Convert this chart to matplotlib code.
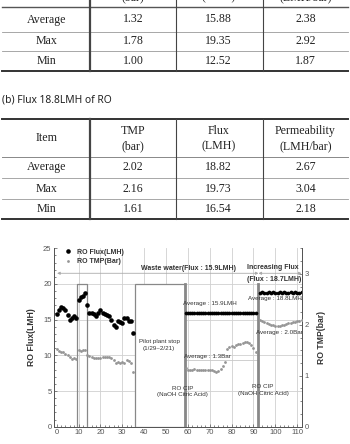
import matplotlib
matplotlib.use("Agg")
import matplotlib.pyplot as plt
from matplotlib.ticker import MultipleLocator

W, H = 350, 444

# ---- table (a): header row is cut off by the top of the page ----
items = ["Average", "Max", "Min"]
a_units = ["(bar)", "(LMH)", "(LMH/bar)"]
a_tmp = ["1.32", "1.78", "1.00"]
a_flux = ["15.88", "19.35", "12.52"]
a_perm = ["2.38", "2.92", "1.87"]

# ---- table (b) ----
b_title = "(b) Flux 18.8LMH of RO"
b_names = ["TMP", "Flux", "Permeability"]
b_units = ["(bar)", "(LMH)", "(LMH/bar)"]
b_tmp = ["2.02", "2.16", "1.61"]
b_flux = ["18.82", "19.73", "16.54"]
b_perm = ["2.67", "3.04", "2.18"]

# ---- chart: RO flux (LMH) and TMP (bar) per operating day ----
days1 = list(range(0, 36))
flux1 = [15.8, 16.3, 16.8, 16.7, 16.3, 15.6, 15.0, 15.2, 15.5, 15.2,
         17.7, 18.2, 18.3, 18.7, 17.0, 16.0, 15.9, 15.8, 15.5, 16.0,
         16.3, 15.9, 15.8, 15.6, 15.5, 14.9, 14.3, 14.0, 14.8, 14.7,
         14.6, 15.3, 15.2, 14.8, 14.8, 13.1]
tmp1 = [1.53, 1.49, 1.47, 1.46, 1.43, 1.40, 1.36, 1.33, 1.34, 1.32,
        1.51, 1.49, 1.50, 1.51, 1.41, 1.38, 1.36, 1.35, 1.34, 1.34,
        1.35, 1.36, 1.37, 1.37, 1.36, 1.34, 1.31, 1.25, 1.27, 1.25,
        1.27, 1.25, 1.30, 1.29, 1.24, 1.08]

days2 = list(range(59, 92))
flux2 = [15.9, 16.0, 15.9, 16.0, 15.9, 15.9, 16.0, 15.9, 16.0, 15.9,
         15.9, 16.0, 16.0, 15.9, 15.9, 16.0, 15.9, 16.0, 15.9, 15.9,
         16.0, 15.9, 16.0, 15.9, 15.9, 16.0, 15.9, 15.9, 16.0, 15.9,
         16.0, 15.9, 15.9]
tmp2 = [1.15, 1.12, 1.11, 1.12, 1.13, 1.12, 1.11, 1.12, 1.12, 1.11,
        1.11, 1.12, 1.11, 1.10, 1.08, 1.09, 1.13, 1.19, 1.26, 1.52,
        1.56, 1.58, 1.57, 1.61, 1.62, 1.63, 1.65, 1.67, 1.66, 1.64,
        1.60, 1.54, 1.47]

days3 = list(range(93, 113))
flux3 = [18.8, 18.9, 18.8, 18.8, 18.9, 18.8, 18.9, 18.8, 18.8, 18.9,
         18.8, 18.9, 18.8, 18.8, 18.9, 18.8, 18.9, 18.8, 18.8, 18.9]
tmp3 = [2.09, 2.07, 2.06, 2.04, 2.02, 2.00, 1.99, 1.98, 1.97, 1.98,
        1.99, 2.00, 2.02, 2.03, 2.04, 2.05, 2.06, 2.07, 2.08, 2.09]

TXT = "#222222"
SERIF = "Liberation Serif"
SANS = "Liberation Sans"

fig = plt.figure(figsize=(W / 100, H / 100), dpi=100)

# page canvas in pixel coordinates for the tables
cv = fig.add_axes([0, 0, 1, 1])
cv.set_xlim(0, W)
cv.set_ylim(H, 0)
cv.axis("off")

col_x = [46.7, 133, 218.5, 305.5]
vlines = [89.5, 176, 263]


def draw_rows(row_y, cols):
    for r, y in enumerate(row_y):
        cv.text(col_x[0], y, items[r], ha="center", va="center",
                family=SERIF, fontsize=8.6, color=TXT)
        for c, vals in enumerate(cols):
            cv.text(col_x[c + 1], y, vals[r], ha="center", va="center",
                    family=SERIF, fontsize=8.6, color=TXT)


# table (a) -- the unit line of its header peeks in at the top edge
for c, u in enumerate(a_units):
    cv.text(col_x[c + 1], -2.5, u, ha="center", va="center",
            family=SERIF, fontsize=8.6, color=TXT)
for y, lw, col in [(7.3, 1.0, "#555"), (31.7, 0.6, "#999"),
                   (51, 0.6, "#999"), (71.5, 1.4, "#333")]:
    cv.plot([2, 348], [y, y], color=col, lw=lw)
for i, x in enumerate(vlines):
    cv.plot([x, x], [0, 71.5], color="#444", lw=1.6 if i == 0 else 0.8)
draw_rows([19.5, 41, 61], [a_tmp, a_flux, a_perm])

# table (b)
cv.text(2, 100, b_title, ha="left", va="center", family="Noto Sans",
        fontsize=7.4, color=TXT)
cv.text(col_x[0], 138.3, "Item", ha="center", va="center",
        family=SERIF, fontsize=8.6, color=TXT)
for c in range(3):
    cv.text(col_x[c + 1], 130.7, b_names[c], ha="center", va="center",
            family=SERIF, fontsize=8.6, color=TXT)
    cv.text(col_x[c + 1], 146, b_units[c], ha="center", va="center",
            family=SERIF, fontsize=8.6, color=TXT)
for y, lw, col in [(119.3, 1.4, "#333"), (156.7, 0.7, "#888"),
                   (178.3, 0.6, "#999"), (199.3, 0.6, "#999"),
                   (219.3, 1.4, "#333")]:
    cv.plot([2, 348], [y, y], color=col, lw=lw)
for i, x in enumerate(vlines):
    cv.plot([x, x], [119.3, 219.3], color="#444", lw=1.6 if i == 0 else 0.8)
draw_rows([167.3, 189, 209.3], [b_tmp, b_flux, b_perm])

# ---- chart ----
ax = fig.add_axes([54.3 / W, 1 - 426.7 / H, (302 - 54.3) / W, (426.7 - 248.3) / H])
ax.set_facecolor("none")
ax.set_xlim(-1.1, 112.2)
ax.set_ylim(0, 25)
ax.set_xticks(range(0, 111, 10))
ax.set_yticks(range(0, 26, 5))
ax.xaxis.set_minor_locator(MultipleLocator(2))
ax.yaxis.set_minor_locator(MultipleLocator(1))
for x in range(10, 111, 10):
    ax.axvline(x, color="#d0d0d0", lw=0.6, zorder=0)
for y in [5, 10, 15, 20]:
    ax.axhline(y, color="#d0d0d0", lw=0.6, zorder=0)

gray = "#888888"
# CIP break-out boxes and stop period
ax.plot([9.4, 9.4, 13.8, 13.8], [0, 20, 20, 0], color=gray, lw=0.9, zorder=2)
ax.fill([35.8, 35.8, 58.6, 58.6], [0, 20, 20, 0], facecolor="white",
        edgecolor=gray, lw=0.9, zorder=2)
ax.plot([58.6, 58.6], [0, 20], color=gray, lw=2.0, zorder=3)
ax.plot([92.3, 92.3], [0, 20], color=gray, lw=2.0, zorder=3)
ax.plot([36, 92.3], [9.3, 9.3], color="#c8c8c8", lw=0.6, zorder=1)

# period arrows at the top
arrow = dict(arrowstyle="<|-|>", color="#aaaaaa", lw=0.6,
             mutation_scale=4, shrinkA=0, shrinkB=0)
ax.annotate("", xy=(0.2, 21.5), xytext=(92.3, 21.5), arrowprops=arrow)
ax.annotate("", xy=(92.3, 21.5), xytext=(112, 21.5), arrowprops=arrow)

ax.plot(days1, flux1, "o", color="black", ms=3.3, mew=0, zorder=4,
        label="RO Flux(LMH)")
ax.plot(days2, flux2, "o", color="black", ms=2.7, mew=0, zorder=4)
ax.plot(days3, flux3, "o", color="black", ms=2.7, mew=0, zorder=4)

ax2 = ax.twinx()
ax2.set_ylim(0, 3.5)
ax2.set_yticks([0, 1, 2, 3])
ax2.yaxis.set_minor_locator(MultipleLocator(0.25))
tmp_kw = dict(marker="o", ls="none", color="#959595", ms=2.0, mew=0, zorder=4)
ax2.plot(days1, tmp1, label="RO TMP(Bar)", **tmp_kw)
ax2.plot(days2, tmp2, **tmp_kw)
ax2.plot(days3, tmp3, **tmp_kw)

for a in (ax, ax2):
    a.spines["top"].set_visible(False)
    for s in a.spines.values():
        s.set_color("#555555")
        s.set_linewidth(0.7)
    a.tick_params(which="both", direction="in", colors="#555555",
                  labelsize=5.5, width=0.5)
    a.tick_params(which="major", length=2.5)
    a.tick_params(which="minor", length=1.3)
    for lab in a.get_xticklabels() + a.get_yticklabels():
        lab.set_family(SANS)
ax.tick_params(axis="x", pad=2)
ax.tick_params(axis="y", pad=2)
ax2.tick_params(axis="y", pad=2)

ax.set_ylabel("RO Flux(LMH)", family=SANS, fontsize=6.2, weight="bold",
              color="#333333", labelpad=5)
ax2.set_ylabel("RO TMP(bar)", family=SANS, fontsize=6.2, weight="bold",
               color="#333333", labelpad=6)

bold = dict(family=SANS, fontsize=5, weight="bold", color="#333333",
            ha="center", va="center", zorder=6)
small = dict(family=SANS, fontsize=4.5, color="#333333",
             ha="center", va="center", zorder=6)
ax.text(60.5, 22.1, "Waste water(Flux : 15.9LMH)", **bold)
ax.text(99.0, 22.3, "Increasing Flux", **bold)
ax.text(99.5, 20.6, "(Flux : 18.7LMH)", **bold)
ax.text(46.8, 11.9, "Pilot plant stop", **small)
ax.text(46.8, 11.0, "(1/29~2/21)", **small)
ax.text(70.0, 17.2, "Average : 15.9LMH", **small)
ax.text(69.0, 9.9, "Average : 1.3Bar", **small)
ax.text(57.5, 5.4, "RO CIP", **small)
ax.text(57.5, 4.45, "(NaOH Citric Acid)", **small)
ax.text(94.3, 5.6, "RO CIP", **small)
ax.text(94.5, 4.65, "(NaOH Citric Acid)", **small)
ax.text(99.6, 17.9, "Average : 18.8LMH", **small)
ax.text(101.8, 13.2, "Average : 2.0Bar", **small)

h1, l1 = ax.get_legend_handles_labels()
h2, l2 = ax2.get_legend_handles_labels()
leg = ax2.legend(h1 + h2, l1 + l2, loc="upper left", bbox_to_anchor=(0.02, 1.02),
                 frameon=False, handlelength=1.2, handletextpad=0.8,
                 labelspacing=0.35, borderaxespad=0.2,
                 prop=dict(family=SANS, size=5, weight="bold"))
for t in leg.get_texts():
    t.set_color("#333333")

fig.savefig("out.png", dpi=100)
